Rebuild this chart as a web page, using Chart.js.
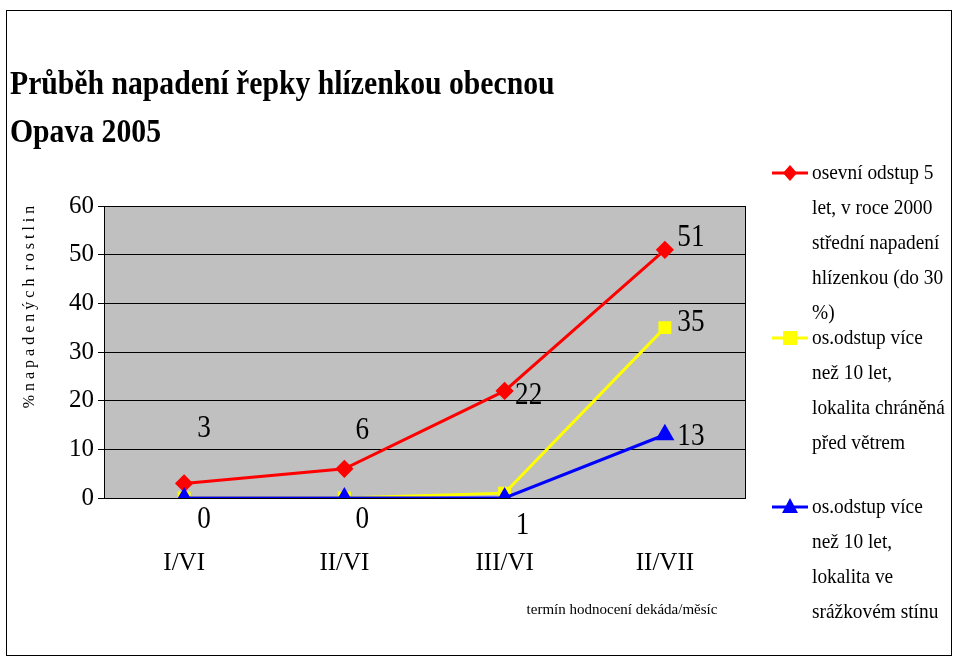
<!DOCTYPE html>
<html><head><meta charset="utf-8">
<script src="https://cdn.jsdelivr.net/npm/chart.js@4"></script>
<style>html,body{margin:0;padding:0;background:#fff}#w{width:960px;height:665px}</style>
</head><body><div id="w"><canvas id="c"></canvas></div>
<script>
const categories = ["I/VI","II/VI","III/VI","II/VII"];
const seriesRed = [3,6,22,51];
const seriesYellow = [0,0,1,35];
const seriesBlue = [0,0,0,13];
const yTicks = [0,10,20,30,40,50,60];
const titleLines = ["Průběh napadení řepky hlízenkou obecnou","Opava 2005"];
const legendRed = ["osevní odstup 5","let, v roce 2000","střední napadení","hlízenkou (do 30","%)"];
const legendYellow = ["os.odstup více","než 10 let,","lokalita chráněná","před větrem"];
const legendBlue = ["os.odstup více","než 10 let,","lokalita ve","srážkovém stínu"];

const serif = "'Liberation Serif','DejaVu Serif',serif";
const labelOffsets = [
  [[20,-55],[18,-38],[24,5],[26,-12]],
  [[20,22],[18,22],[18,32],[26,-5]],
  [null,null,null,[26,2]]
];

const deco = {
  id:'deco',
  beforeDraw(ch){
    const c=ch.ctx, a=ch.chartArea;
    c.save();
    c.fillStyle='#fff';c.fillRect(0,0,ch.width,ch.height);
    c.fillStyle='#c0c0c0';c.fillRect(a.left,a.top,a.right-a.left,a.bottom-a.top);
    c.restore();
  },
  afterDraw(ch){
    const c=ch.ctx, a=ch.chartArea;
    c.save();
    c.strokeStyle='#000';c.lineWidth=1;
    c.strokeRect(a.left+0.5,a.top+0.5,a.right-a.left,a.bottom-a.top);
    c.strokeRect(6.5,10.5,945,645);
    c.fillStyle='#000';c.textBaseline='middle';c.textAlign='left';
    c.font="bold 33px "+serif;
    c.save();c.scale(0.9,1);
    c.fillText(titleLines[0],10/0.9,85);c.fillText(titleLines[1],10/0.9,133);
    c.restore();
    c.save();c.translate(30,307);c.rotate(-Math.PI/2);c.textAlign='center';
    c.font="16px "+serif;c.fillText("% n a p a d e n ý c h  r o s t l i n",0,0);c.restore();
    c.font="15px "+serif;c.textAlign='center';
    c.fillText("termín hodnocení dekáda/měsíc",622,610);
    c.font="32px "+serif;c.textAlign='center';
    ch.data.datasets.forEach((ds,di)=>{
      const meta=ch.getDatasetMeta(di);
      meta.data.forEach((p,i)=>{
        const o=labelOffsets[di][i]; if(!o) return;
        c.save();c.translate(p.x+o[0],p.y+o[1]);c.scale(0.85,1);
        c.fillText(String(ds.data[i]),0,0);c.restore();
      });
    });
    const groups=[[legendRed,'#ff0000','rectRot',173],[legendYellow,'#ffff00','rect',338],[legendBlue,'#0000ff','triangle',507]];
    groups.forEach(([lines,col,st,y0])=>{
      c.strokeStyle=col;c.lineWidth=3;c.beginPath();c.moveTo(772,y0);c.lineTo(808,y0);c.stroke();
      c.fillStyle=col;
      c.beginPath();
      if(st==='rectRot'){c.moveTo(790,y0-8);c.lineTo(797,y0);c.lineTo(790,y0+8);c.lineTo(783,y0);}
      else if(st==='rect'){c.rect(783,y0-7,14,14);}
      else {c.moveTo(790,y0-9);c.lineTo(798,y0+6);c.lineTo(782,y0+6);}
      c.closePath();c.fill();
      c.fillStyle='#000';c.textAlign='left';c.font="22px "+serif;
      lines.forEach((t,k)=>{c.save();c.translate(812,y0+k*35);c.scale(0.88,1);c.fillText(t,0,0);c.restore();});
    });
    c.restore();
  }
};

new Chart(document.getElementById('c'),{
  type:'line',
  data:{labels:categories,datasets:[
    {data:seriesRed,order:1,borderColor:'#ff0000',backgroundColor:'#ff0000',pointStyle:'rectRot',pointRadius:7,borderWidth:3},
    {data:seriesYellow,order:2,borderColor:'#ffff00',backgroundColor:'#ffff00',pointStyle:'rect',pointRadius:7,borderWidth:3},
    {data:seriesBlue,order:0,borderColor:'#0000ff',backgroundColor:'#0000ff',pointStyle:'triangle',pointRadius:8,borderWidth:3}
  ]},
  options:{
    responsive:true,maintainAspectRatio:false,animation:false,devicePixelRatio:1,
    layout:{padding:{left:0,top:206,right:215,bottom:0}},
    plugins:{legend:{display:false},title:{display:false},tooltip:{enabled:false}},
    scales:{
      x:{offset:true,grid:{display:false},border:{color:'#000'},
        ticks:{color:'#000',padding:42,font:{family:serif,size:25}},
        afterFit(s){s.height=167;}},
      y:{min:0,max:60,grid:{color:'#000',drawTicks:true,tickLength:6},border:{color:'#000'},
        afterBuildTicks(s){s.ticks=yTicks.map(v=>({value:v}));},
        ticks:{color:'#000',font:{family:serif,size:25},padding:4},
        afterFit(s){s.width=104;}}
    }
  },
  plugins:[deco]
});
</script></body></html>
